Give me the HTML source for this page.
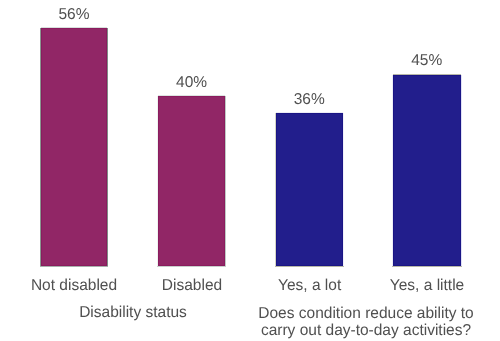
<!DOCTYPE html>
<html><head><meta charset="utf-8">
<style>
html,body{margin:0;padding:0;background:#fff;width:500px;height:341px;overflow:hidden;}
svg{display:block;will-change:transform;}
text{font-family:"Liberation Sans",sans-serif;fill:#505050;font-size:15.75px;text-rendering:geometricPrecision;}
</style></head><body>
<svg width="500" height="341" viewBox="0 0 500 341" shape-rendering="crispEdges">
<rect x="41" y="28" width="66" height="238" fill="#912666"/>
<rect x="41" y="28" width="1" height="238" fill="#8a1c5e"/>
<rect x="41" y="28" width="66" height="1" fill="#8a1c5e"/>
<rect x="106" y="28" width="1" height="238" fill="#8a1c5e"/>
<rect x="41" y="265" width="66" height="1" fill="#8a1c5e"/>
<rect x="40" y="28" width="1" height="238" fill="#8a9690"/>
<rect x="41" y="27" width="66" height="1" fill="#d8e0dc"/>
<rect x="107" y="28" width="1" height="238" fill="#7f8b86"/>
<rect x="40" y="266" width="68" height="1" fill="#a8b2ad"/>
<rect x="158" y="96" width="67" height="170" fill="#912666"/>
<rect x="158" y="96" width="1" height="170" fill="#8a1c5e"/>
<rect x="158" y="96" width="67" height="1" fill="#8a1c5e"/>
<rect x="224" y="96" width="1" height="170" fill="#8a1c5e"/>
<rect x="158" y="265" width="67" height="1" fill="#8a1c5e"/>
<rect x="157" y="96" width="1" height="170" fill="#eef2f0"/>
<rect x="158" y="95" width="67" height="1" fill="#dde5e1"/>
<rect x="225" y="96" width="1" height="170" fill="#c0cac5"/>
<rect x="157" y="266" width="69" height="1" fill="#c8d0cc"/>
<rect x="276" y="113" width="67" height="153" fill="#221e8c"/>
<rect x="276" y="113" width="1" height="153" fill="#1a1585"/>
<rect x="276" y="113" width="67" height="1" fill="#1a1585"/>
<rect x="342" y="113" width="1" height="153" fill="#1a1585"/>
<rect x="276" y="265" width="67" height="1" fill="#1a1585"/>
<rect x="275" y="113" width="1" height="153" fill="#d5d5c5"/>
<rect x="276" y="112" width="67" height="1" fill="#ececf5"/>
<rect x="343" y="113" width="1" height="153" fill="#f0f0fa"/>
<rect x="275" y="266" width="69" height="1" fill="#b8b8a8"/>
<rect x="393" y="75" width="68" height="191" fill="#221e8c"/>
<rect x="393" y="75" width="1" height="191" fill="#1a1585"/>
<rect x="393" y="75" width="68" height="1" fill="#1a1585"/>
<rect x="460" y="75" width="1" height="191" fill="#1a1585"/>
<rect x="393" y="265" width="68" height="1" fill="#1a1585"/>
<rect x="392" y="75" width="1" height="191" fill="#ececf8"/>
<rect x="393" y="74" width="68" height="1" fill="#b8b8a8"/>
<rect x="461" y="75" width="1" height="191" fill="#e0e0f5"/>
<rect x="392" y="266" width="70" height="1" fill="#b8b8a8"/>
<g text-anchor="middle" shape-rendering="auto">
<text transform="translate(74,19) scale(0.984,1.0)">56%</text>
<text transform="translate(191.6,87) scale(0.984,1.0)">40%</text>
<text transform="translate(309.2,104) scale(0.984,1.0)">36%</text>
<text transform="translate(426.7,65.4) scale(0.984,1.0)">45%</text>
<text transform="translate(74,290) scale(0.984,1.0)">Not disabled</text>
<text transform="translate(192,290) scale(0.984,1.0)">Disabled</text>
<text transform="translate(309.6,290) scale(0.984,1.0)">Yes, a lot</text>
<text transform="translate(427,290) scale(0.984,1.0)">Yes, a little</text>
<text transform="translate(133,317) scale(0.984,1.0)">Disability status</text>
<text transform="translate(366,317.5) scale(0.984,1.0)">Does condition reduce ability to</text>
<text transform="translate(366,335) scale(0.984,1.0)">carry out day-to-day activities?</text>
</g>
</svg>
</body></html>
